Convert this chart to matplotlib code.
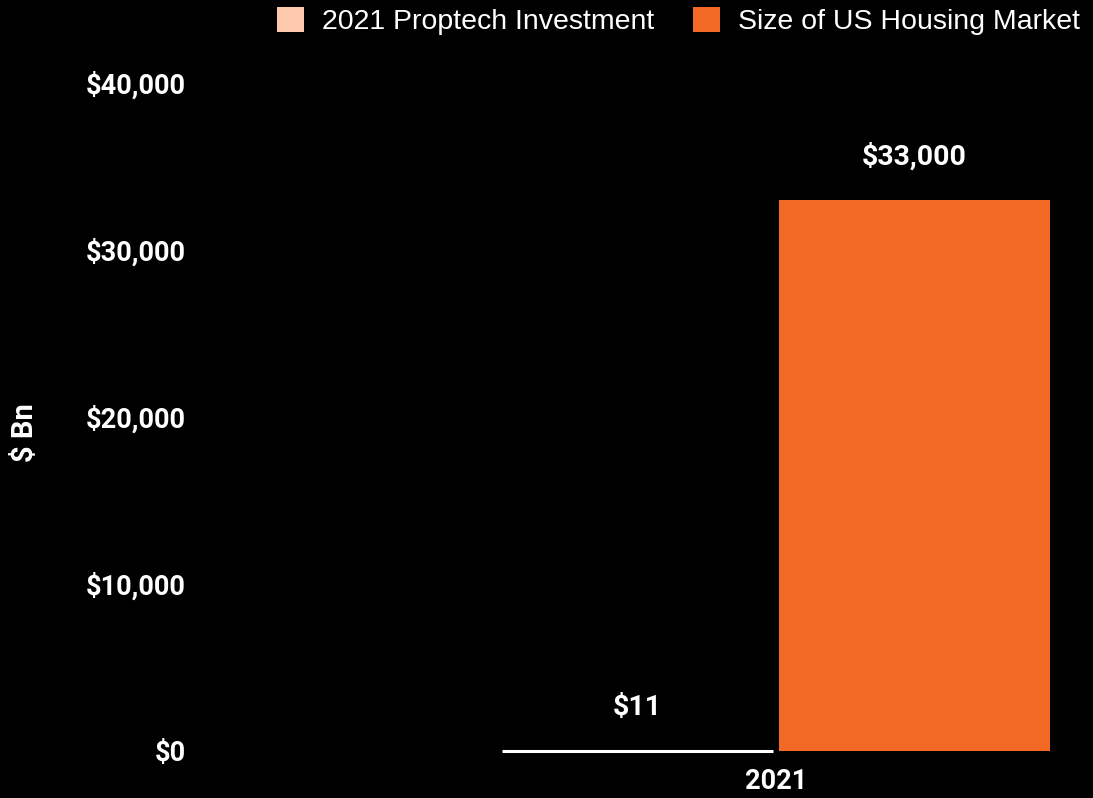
import matplotlib
matplotlib.use('Agg')
import matplotlib.pyplot as plt
from matplotlib.ticker import FuncFormatter

# data
categories = ['2021']
series_names = ['2021 Proptech Investment', 'Size of US Housing Market']
series_values = [[11], [33000]]
series_colors = ['#fdc9ad', '#f26926']
y_ticks = [0, 10000, 20000, 30000, 40000]

plt.rcParams['font.family'] = ['Roboto', 'DejaVu Sans']

fig = plt.figure(figsize=(10.93, 7.98), dpi=100, facecolor='black')
ax = fig.add_axes([200 / 1093, 47 / 798, 893 / 1093, 668 / 798])
ax.set_facecolor('black')

offsets = [-0.5, 0.5]
bar_w = 0.978
for i, (name, vals) in enumerate(zip(series_names, series_values)):
    xs = [j + offsets[i] for j in range(len(categories))]
    edge = 'white' if i == 0 else series_colors[i]
    bars = ax.bar(xs, vals, width=bar_w, color=series_colors[i], label=name,
                  edgecolor=edge, linewidth=2.2 if i == 0 else 0, clip_on=False)
    for b, v in zip(bars, vals):
        ax.annotate(f'${v:,.0f}', (b.get_x() + b.get_width() / 2, b.get_height()),
                    xytext=(0, 31), textcoords='offset points', ha='center', va='center',
                    color='white', fontsize=20.5, fontweight='bold')

ax.set_xlim((200 - 776) / 277, (1093 - 776) / 277)
ax.set_ylim(0, 40000)
ax.set_yticks(y_ticks)
ax.yaxis.set_major_formatter(FuncFormatter(lambda v, p: f'${v:,.0f}'))
ax.set_xticks(range(len(categories)))
ax.set_xticklabels(categories)
ax.tick_params(axis='both', length=0, colors='white', labelsize=19.5)
ax.tick_params(axis='y', pad=10)
ax.tick_params(axis='x', pad=12)
for lbl in ax.get_xticklabels() + ax.get_yticklabels():
    lbl.set_fontweight('bold')
for s in ax.spines.values():
    s.set_visible(False)

fig.text(25 / 1093, 1 - 433 / 798, '$ Bn', rotation=90, color='white', fontsize=21,
         fontweight='bold', ha='center', va='center')

leg = fig.legend(loc='upper right', bbox_to_anchor=(0.995, 1.0), ncol=2, frameon=False,
                 prop={'family': 'Liberation Sans', 'size': 20.5}, labelcolor='white',
                 handlelength=0.95, handleheight=0.95, handletextpad=0.65,
                 columnspacing=1.35, borderaxespad=0.05, borderpad=0.2)
for h in leg.legend_handles:
    h.set_edgecolor('none')

fig.savefig('out.png', dpi=100, facecolor='black')
